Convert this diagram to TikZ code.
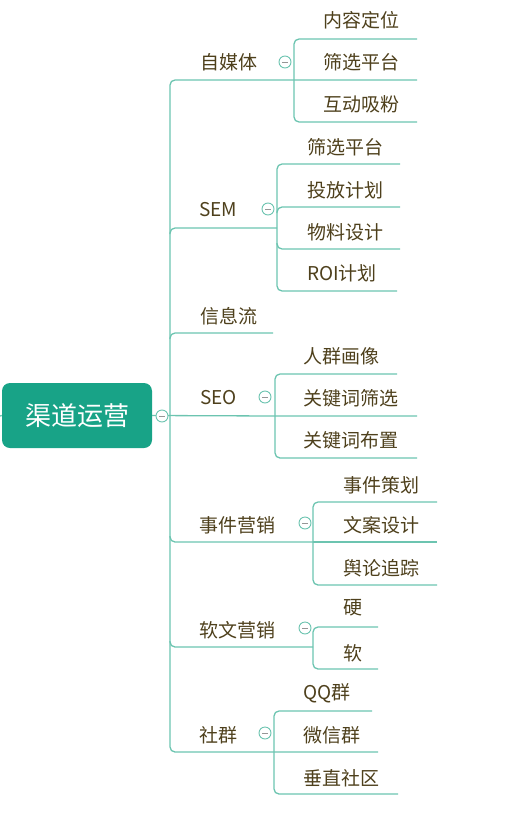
\documentclass[tikz,border=0pt]{standalone}
\usepackage{fontspec}
\setmainfont{Noto Sans CJK SC}
\usetikzlibrary{calc}
\definecolor{lineC}{RGB}{108,196,176}
\definecolor{rootC}{RGB}{24,163,135}
\definecolor{txtC}{RGB}{78,64,28}
\definecolor{minusC}{RGB}{150,150,150}
\begin{document}
\begin{tikzpicture}[x=1pt,y=-1pt,
  conn/.style={draw=lineC, line width=1.3pt, rounded corners=5pt},
  topic/.style={anchor=west, inner sep=0pt, text=txtC, font=\fontsize{19}{19}\selectfont},
  rootbox/.style={fill=rootC, rounded corners=8pt, minimum width=150pt, minimum height=65pt,
    text=white, font=\fontsize{26}{26}\selectfont, inner sep=0pt},
  fold/.style={circle, draw=lineC, line width=0.9pt, fill=white, minimum size=12pt, inner sep=0pt,
    path picture={\draw[minusC, line width=0.6pt]
      ([xshift=-2.6pt]path picture bounding box.center) -- ([xshift=2.6pt]path picture bounding box.center);}}]
\useasboundingbox (0,0) rectangle (516,814);

% ---------- coordinates ----------
\coordinate (tr) at (170,416);
\coordinate (lt) at (0,416);
% bracket points (parent underline right ends)
\coordinate (zmtb) at (294,80);
\coordinate (semb) at (277,228);
\coordinate (xxlb) at (273,333);
\coordinate (seob) at (275,416);
\coordinate (sjb) at (313,542);
\coordinate (rwb) at (313,647);
\coordinate (sqb) at (274,752);
% child underline right ends
\coordinate (zmt1e) at (417,39);
\coordinate (zmt2e) at (417,80);
\coordinate (zmt3e) at (417,122);
\coordinate (sem1e) at (400,164);
\coordinate (sem2e) at (400,207);
\coordinate (sem3e) at (400,249);
\coordinate (sem4e) at (397,291);
\coordinate (seo1e) at (397,374);
\coordinate (seo2e) at (417,416);
\coordinate (seo3e) at (417,458);
\coordinate (sj1e) at (437,502);
\coordinate (sj2e) at (437,542);
\coordinate (sj3e) at (437,585);
\coordinate (rw1e) at (378,627);
\coordinate (rw2e) at (378,669);
\coordinate (sq1e) at (372,711);
\coordinate (sq2e) at (378,752);
\coordinate (sq3e) at (398,794);

% ---------- root ----------
\node[rootbox] (root) at (77,415.5) {渠道运营};

% ---------- connectors ----------
\draw[conn] (lt) -- (root.west);
\draw[conn] (root.east) -- (seob) -- (seo2e);
% trunk with first and last branches
\draw[conn] (zmt2e) -- (zmtb) -- (tr |- zmtb) -- (tr |- sqb) -- (sqb) -- (sq2e);
% middle branches
\draw[conn] ($(tr |- semb)+(0,6)$) -- (tr |- semb) -- (semb);
\draw[conn] ($(tr |- xxlb)+(0,6)$) -- (tr |- xxlb) -- (xxlb);
\draw[conn] ($(tr |- sjb)+(0,-6)$) -- (tr |- sjb) -- (sjb);
\draw[conn] ($(tr |- rwb)+(0,-6)$) -- (tr |- rwb) -- (rwb);

% 自媒体 bracket
\draw[conn] (zmt1e) -- (zmtb |- zmt1e) -- (zmtb |- zmt3e) -- (zmt3e);
% SEM bracket
\draw[conn] (sem1e) -- (semb |- sem1e) -- (semb |- sem4e) -- (sem4e);
\draw[conn] ($(semb |- sem2e)+(0,6)$) -- (semb |- sem2e) -- (sem2e);
\draw[conn] ($(semb |- sem3e)+(0,-6)$) -- (semb |- sem3e) -- (sem3e);
% SEO bracket
\draw[conn] (seo1e) -- (seob |- seo1e) -- (seob |- seo3e) -- (seo3e);
% 事件营销 bracket
\draw[conn] (sj1e) -- (sjb |- sj1e) -- (sjb |- sj3e) -- (sj3e);
\draw[conn] (sjb) -- (sj2e);
% 软文营销 bracket
\draw[conn] (rw1e) -- (rwb |- rw1e) -- (rwb |- rw2e) -- (rw2e);
% 社群 bracket
\draw[conn] (sq1e) -- (sqb |- sq1e) -- (sqb |- sq3e) -- (sq3e);

% ---------- fold markers ----------
\node[fold] (rootfold) at (162,416) {};
\node[fold] (zmtf) at (285,62) {};
\node[fold] (semf) at (268,209) {};
\node[fold] (seof) at (265,397) {};
\node[fold] (sjf) at (305,523) {};
\node[fold] (rwf) at (305,628) {};
\node[fold] (sqf) at (265,733) {};

% ---------- level-1 topics ----------
\node[topic] (zmt) at (200,62) {自媒体};
\node[topic] (sem) at (199,210) {SEM};
\node[topic] (xxl) at (200,316) {信息流};
\node[topic] (seo) at (200,398) {SEO};
\node[topic] (sj) at (199,525) {事件营销};
\node[topic] (rw) at (199,630) {软文营销};
\node[topic] (sq) at (199,735) {社群};

% ---------- level-2 topics ----------
\node[topic] (zmt1) at (323,20) {内容定位};
\node[topic] (zmt2) at (323,62) {筛选平台};
\node[topic] (zmt3) at (323,104) {互动吸粉};
\node[topic] (sem1) at (307,147) {筛选平台};
\node[topic] (sem2) at (307,190) {投放计划};
\node[topic] (sem3) at (307,232) {物料设计};
\node[topic] (sem4) at (307,273) {ROI计划};
\node[topic] (seo1) at (303,356) {人群画像};
\node[topic] (seo2) at (303,398) {关键词筛选};
\node[topic] (seo3) at (303,440) {关键词布置};
\node[topic] (sj1) at (343,485) {事件策划};
\node[topic] (sj2) at (343,525) {文案设计};
\node[topic] (sj3) at (343,568) {舆论追踪};
\node[topic] (rw1) at (343,608) {硬};
\node[topic] (rw2) at (343,653) {软};
\node[topic] (sq1) at (303,693) {QQ群};
\node[topic] (sq2) at (303,735) {微信群};
\node[topic] (sq3) at (303,778) {垂直社区};
\end{tikzpicture}
\end{document}
